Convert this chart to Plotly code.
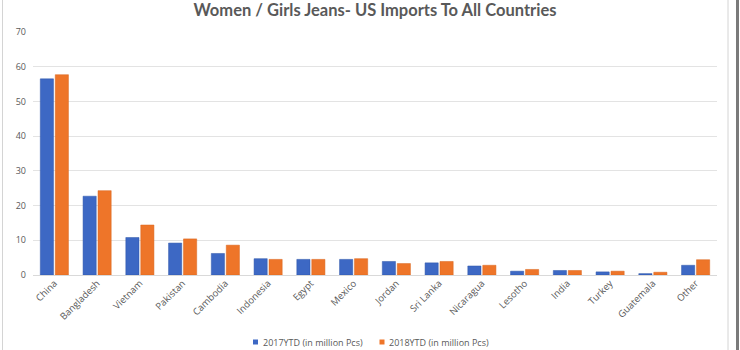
import plotly.graph_objects as go

countries = ["China", "Bangladesh", "Vietnam", "Pakistan", "Cambodia", "Indonesia",
             "Egypt", "Mexico", "Jordan", "Sri Lanka", "Nicaragua", "Lesotho",
             "India", "Turkey", "Guatemala", "Other"]
ytd_2017 = [56.5, 22.7, 10.8, 9.2, 6.2, 4.7, 4.5, 4.5, 3.9, 3.5, 2.6, 1.1,
            1.3, 0.9, 0.4, 2.8]
ytd_2018 = [57.7, 24.3, 14.4, 10.4, 8.6, 4.5, 4.5, 4.7, 3.3, 3.9, 2.8, 1.6,
            1.3, 1.1, 0.8, 4.4]
series_names = ["2017YTD (in million Pcs)", "2018YTD (in million Pcs)"]
series_colors = ["#3d68c4", "#ee7529"]
y_ticks = [0, 10, 20, 30, 40, 50, 60, 70]

W, H = 740, 350
L, R, T, B = 33, 23, 32, 75

def px_x(px):
    return (px - L) / (W - L - R)

def px_y(py):
    return 1 - (py - T) / (H - T - B)

fig = go.Figure()
fig.add_bar(x=countries, y=ytd_2017, name=series_names[0],
            marker=dict(color=series_colors[0], line=dict(color="#2f56a8", width=0.5)))
fig.add_bar(x=countries, y=ytd_2018, name=series_names[1],
            marker=dict(color=series_colors[1], line=dict(color="#d8641c", width=0.5)))

# outer frame lines
fig.add_shape(type="line", xref="paper", yref="paper",
              x0=px_x(2.5), x1=px_x(2.5), y0=px_y(0), y1=px_y(350),
              line=dict(color="#d4d4d4", width=1))
fig.add_shape(type="line", xref="paper", yref="paper",
              x0=px_x(728), x1=px_x(728), y0=px_y(0), y1=px_y(350),
              line=dict(color="#d4d4d4", width=1))
fig.add_shape(type="line", xref="paper", yref="paper",
              x0=px_x(737.5), x1=px_x(737.5), y0=px_y(0), y1=px_y(350),
              line=dict(color="#7a7a7a", width=3))

# legend drawn as small squares with labels beneath the plot
legend_x = [255.5, 382]
legend_y = 342
for name, color, lx in zip(series_names, series_colors, legend_x):
    fig.add_shape(type="rect", xref="paper", yref="paper",
                  x0=px_x(lx - 2.5), x1=px_x(lx + 2.5),
                  y0=px_y(legend_y + 2.5), y1=px_y(legend_y - 2.5),
                  fillcolor=color, line=dict(width=0))
    fig.add_annotation(text=name, xref="paper", yref="paper",
                       x=px_x(lx + 5), y=px_y(legend_y),
                       xanchor="left", yanchor="middle", showarrow=False,
                       font=dict(size=9, color="#595959"))

fig.update_layout(
    width=W, height=H,
    margin=dict(l=L, r=R, t=T, b=B),
    paper_bgcolor="white", plot_bgcolor="white",
    barmode="group", bargap=0.3, bargroupgap=0.12,
    font=dict(family="Open Sans, sans-serif", color="#595959", size=9),
    title=dict(text="<b>Women / Girls Jeans- US Imports To All Countries</b>",
               x=0.5, xref="paper", xanchor="center", y=1 - 10 / H, yanchor="middle",
               font=dict(family="Lato, sans-serif", size=16.5, color="#595959")),
    showlegend=False,
)
fig.update_xaxes(tickangle=-45, tickfont=dict(size=9.5, color="#595959"),
                 showline=False, ticks="", showgrid=False, automargin=False)
fig.update_yaxes(range=[0, 70], tickvals=y_ticks, showgrid=True,
                 gridcolor="#e3e3e3", gridwidth=1, zeroline=True,
                 zerolinecolor="#d9d9d9", zerolinewidth=1, automargin=False,
                 tickfont=dict(size=9, color="#595959"), ticklabelstandoff=6)

fig.write_html("out.html")
